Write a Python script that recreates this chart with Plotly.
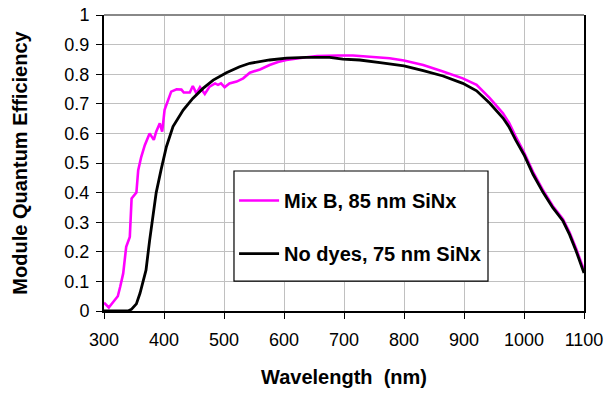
import plotly.graph_objects as go

# Mix B, 85 nm SiNx (magenta)
mix_wl = [300, 308, 316, 323, 327, 332, 337, 343, 346, 351, 354, 357, 362, 368, 376, 383, 387,
          393, 397, 401, 407, 412, 421, 429, 433, 443, 448, 454, 460, 468, 476, 485, 490, 495,
          501, 509, 521, 532, 543, 560, 576, 590, 604, 620, 637, 655, 671, 690, 715, 743, 776,
          800, 832, 865, 898, 921, 943, 965, 975, 986, 1000, 1015, 1032, 1048, 1065, 1076,
          1087, 1100]
mix_qe = [0.028, 0.012, 0.032, 0.050, 0.082, 0.127, 0.217, 0.250, 0.380, 0.395, 0.400, 0.476,
          0.520, 0.560, 0.600, 0.578, 0.606, 0.634, 0.606, 0.680, 0.713, 0.741, 0.749, 0.748,
          0.738, 0.738, 0.760, 0.735, 0.756, 0.733, 0.758, 0.769, 0.764, 0.769, 0.756, 0.769,
          0.775, 0.786, 0.805, 0.816, 0.831, 0.841, 0.848, 0.853, 0.857, 0.861, 0.863, 0.863,
          0.863, 0.859, 0.854, 0.846, 0.831, 0.809, 0.786, 0.764, 0.719, 0.668, 0.636, 0.590,
          0.536, 0.470, 0.407, 0.355, 0.310, 0.265, 0.210, 0.138]

# No dyes, 75 nm SiNx (black)
ref_wl = [300, 340, 346, 354, 360, 365, 370, 376, 382, 387, 395, 404, 415, 432, 448, 465, 482,
          504, 526, 543, 576, 604, 637, 676, 698, 726, 760, 776, 800, 832, 865, 898, 921, 943,
          965, 975, 986, 1000, 1015, 1032, 1048, 1065, 1076, 1087, 1100]
ref_qe = [0.0, 0.0, 0.006, 0.024, 0.060, 0.100, 0.138, 0.238, 0.328, 0.400, 0.476, 0.555,
          0.623, 0.679, 0.718, 0.752, 0.780, 0.805, 0.825, 0.837, 0.848, 0.854, 0.857, 0.857,
          0.851, 0.848, 0.839, 0.834, 0.828, 0.812, 0.794, 0.769, 0.744, 0.702, 0.652, 0.622,
          0.578, 0.528, 0.462, 0.400, 0.349, 0.304, 0.258, 0.202, 0.128]

x_ticks = [300, 400, 500, 600, 700, 800, 900, 1000, 1100]
y_ticks = [0, 0.1, 0.2, 0.3, 0.4, 0.5, 0.6, 0.7, 0.8, 0.9, 1]
y_tick_text = ["0", "0.1", "0.2", "0.3", "0.4", "0.5", "0.6", "0.7", "0.8", "0.9", "1"]

FONT = "Arial, Liberation Sans, sans-serif"

fig = go.Figure()
fig.add_trace(go.Scatter(x=mix_wl, y=mix_qe, mode="lines", name="Mix B, 85 nm SiNx",
                         line=dict(color="#ff00ff", width=2.6), legendgroup="a"))
fig.add_trace(go.Scatter(x=ref_wl, y=ref_qe, mode="lines", name="No dyes, 75 nm SiNx",
                         line=dict(color="#000000", width=2.8), legendgroup="b"))

fig.update_layout(
    width=613, height=394,
    margin=dict(l=104, r=29, t=15, b=83, autoexpand=False),
    paper_bgcolor="white", plot_bgcolor="white",
    font=dict(family=FONT, color="black"),
    legend=dict(x=0.271, y=0.439, xanchor="left", yanchor="top",
                bgcolor="rgba(0,0,0,0)", borderwidth=0,
                font=dict(family=FONT, size=20, weight="bold", color="black"),
                traceorder="grouped", tracegroupgap=24, itemwidth=40),
    showlegend=True,
)
fig.update_xaxes(range=[300, 1100], tickvals=x_ticks, ticktext=[str(v) for v in x_ticks],
                 automargin=False,
                 showgrid=True, gridcolor="#c0c0c0", gridwidth=1,
                 showline=True, linecolor="black", linewidth=2,
                 ticks="outside", ticklen=6, tickcolor="black", tickwidth=1,
                 tickfont=dict(family=FONT, size=18, color="black"),
                 ticklabelstandoff=5,
                 zeroline=False,
                 title=dict(text="Wavelength  (nm)", standoff=21,
                            font=dict(family=FONT, size=20, weight="bold", color="black")))
fig.update_yaxes(range=[0, 1], tickvals=y_ticks, ticktext=y_tick_text,
                 automargin=False,
                 showgrid=True, gridcolor="#c0c0c0", gridwidth=1,
                 showline=True, linecolor="black", linewidth=2, mirror=True,
                 ticks="outside", ticklen=6, tickcolor="black", tickwidth=1,
                 tickfont=dict(family=FONT, size=18, color="black"),
                 ticklabelstandoff=3,
                 zeroline=False,
                 title=dict(text="Module Quantum Efficiency", standoff=31,
                            font=dict(family=FONT, size=20, weight="bold", color="black")))
# plot-area top border (gray) and legend frame
fig.add_shape(type="line", xref="paper", yref="paper", x0=0, x1=1, y0=1, y1=1,
              line=dict(color="#888888", width=2))
fig.add_shape(type="rect", xref="paper", yref="paper", x0=0.2708, x1=0.8, y0=0.101, y1=0.473,
              line=dict(color="black", width=1.2), fillcolor="white", layer="above")

fig.write_html("out.html", config={"displayModeBar": False},
               post_script="document.body.style.margin='0';document.body.style.overflow='hidden';")
